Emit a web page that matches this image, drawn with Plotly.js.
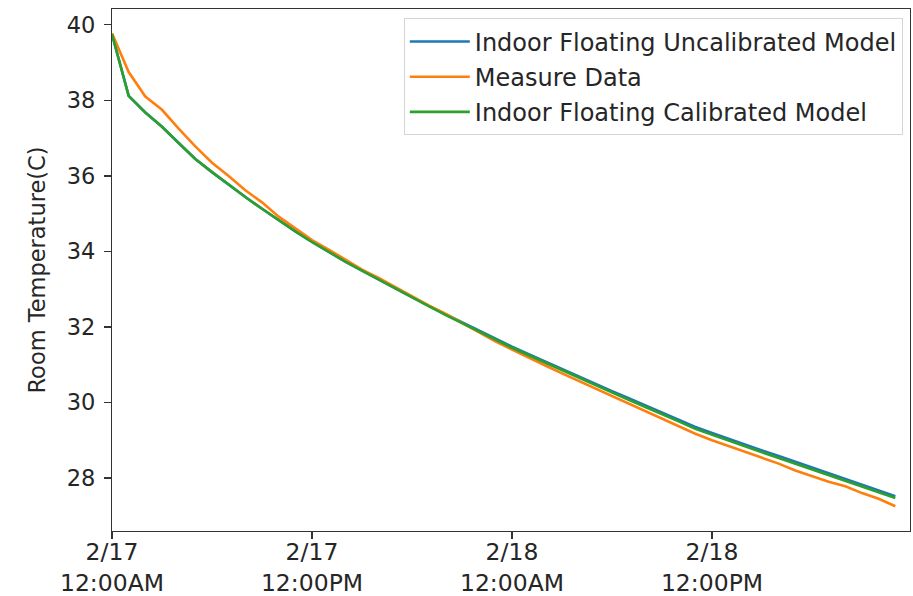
<!DOCTYPE html>
<html>
<head>
<meta charset="utf-8">
<script src="https://cdn.plot.ly/plotly-3.0.1.min.js"></script>
<style>html,body{margin:0;padding:0;background:#fff;} #chart{width:913px;height:596px;}</style>
</head>
<body>
<div id="chart"></div>
<script>
// hours since 2/17 12:00AM
const hours = [0,1,2,3,4,5,6,7,8,9,10,11,12,13,14,15,16,17,18,19,20,21,22,23,24,25,26,27,28,29,30,31,32,33,34,35,36,37,38,39,40,41,42,43,44,45,46,47];

const uncalibrated = [39.75,38.12,37.68,37.30,36.87,36.45,36.10,35.76,35.44,35.13,34.82,34.53,34.25,33.98,33.73,33.49,33.25,33.02,32.79,32.56,32.34,32.12,31.90,31.69,31.48,31.28,31.08,30.88,30.68,30.49,30.30,30.11,29.92,29.74,29.55,29.35,29.19,29.03,28.88,28.73,28.58,28.43,28.28,28.13,27.98,27.83,27.68,27.52];

const measured = [39.78,38.75,38.10,37.75,37.25,36.78,36.35,36.00,35.62,35.30,34.92,34.60,34.30,34.05,33.78,33.52,33.30,33.05,32.82,32.57,32.35,32.10,31.85,31.62,31.40,31.18,30.98,30.77,30.57,30.36,30.16,29.95,29.75,29.56,29.36,29.17,29.00,28.85,28.68,28.53,28.38,28.20,28.05,27.90,27.78,27.60,27.45,27.25];

const calibrated = [39.75,38.12,37.68,37.30,36.87,36.45,36.10,35.76,35.44,35.13,34.82,34.53,34.25,33.98,33.73,33.49,33.25,33.02,32.79,32.55,32.32,32.10,31.88,31.66,31.45,31.25,31.05,30.85,30.65,30.45,30.26,30.07,29.88,29.70,29.50,29.30,29.14,28.98,28.83,28.68,28.53,28.38,28.23,28.08,27.93,27.78,27.63,27.47];

const seriesNames = ["Indoor Floating Uncalibrated Model","Measure Data","Indoor Floating Calibrated Model"];
const seriesColors = ["#1f77b4","#ff7f0e","#2ca02c"];

const tickHours = [0,12,24,36];
const tickLabels = ["2/17<br>12:00AM","2/17<br>12:00PM","2/18<br>12:00AM","2/18<br>12:00PM"];
const yTicks = [28,30,32,34,36,38,40];

const start = new Date(Date.UTC(2019,1,17,0,0,0));
function toTime(h){
  const d = new Date(start.getTime() + h*3600*1000);
  return d.toISOString().replace('T',' ').slice(0,19);
}
const xs = hours.map(toTime);

const allY = [uncalibrated, measured, calibrated];
const traces = allY.map((ys,i)=>({
  x: xs, y: ys, type:'scatter', mode:'lines', name: seriesNames[i],
  legendgroup: 'g'+i,
  line:{color: seriesColors[i], width:2.6}
}));

const fam = 'DejaVu Sans';
const col = '#262626';
const layout = {
  width:913, height:596,
  margin:{l:112, r:3, t:9, b:65},
  paper_bgcolor:'#ffffff', plot_bgcolor:'#ffffff',
  font:{family:fam, size:22, color:col},
  showlegend:true,
  legend:{x:0.991, y:0.982, xanchor:'right', yanchor:'top',
    bgcolor:'rgba(255,255,255,0.9)', bordercolor:'#d5d5d5', borderwidth:1,
    font:{family:fam, size:24, color:col}, tracegroupgap:1, itemwidth:60},
  xaxis:{
    type:'date',
    range:[toTime(0), toTime(47.88)],
    tickmode:'array', tickvals: tickHours.map(toTime), ticktext: tickLabels,
    ticks:'outside', ticklen:7, tickcolor:'#333', tickwidth:1.2,
    showline:true, linecolor:'#333', linewidth:1.2, mirror:true,
    showgrid:false, zeroline:false,
    ticklabelstandoff:-7,
    tickfont:{family:fam, size:23.5, color:col}
  },
  yaxis:{
    range:[26.596, 40.42],
    tickmode:'array', tickvals:yTicks,
    ticks:'outside', ticklen:7, tickcolor:'#333', tickwidth:1.2,
    showline:true, linecolor:'#333', linewidth:1.2, mirror:true,
    showgrid:false, zeroline:false,
    ticklabelstandoff:4,
    tickfont:{family:fam, size:22.5, color:col},
    title:{text:'Room Temperature(C)', standoff:14, font:{family:fam, size:22.5, color:col}}
  }
};
Plotly.newPlot('chart', traces, layout, {staticPlot:true, displayModeBar:false});
</script>
</body>
</html>
